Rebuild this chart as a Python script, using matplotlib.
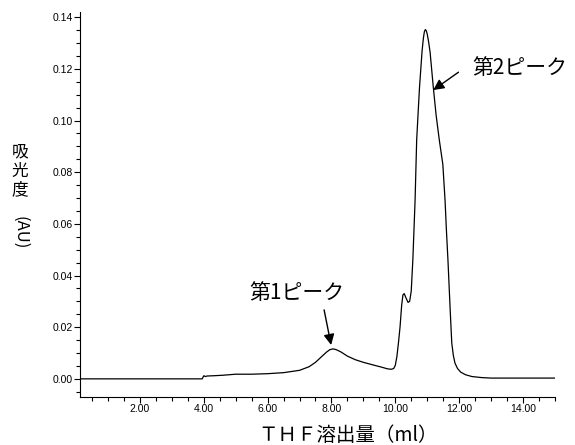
import numpy as np
import matplotlib.pyplot as plt
from matplotlib.ticker import MultipleLocator, FormatStrFormatter

plt.rcParams['font.family'] = ['Noto Sans CJK JP', 'DejaVu Sans']

# THF elution volume (ml) and absorbance (AU)
volume = [0.12, 1.0, 2.0, 3.0, 3.95, 4.0, 4.05, 4.1, 4.3, 4.6, 5.0, 5.5, 6.0,
          6.5, 7.0, 7.3, 7.5, 7.7, 7.85, 7.95, 8.05, 8.15, 8.3, 8.5, 8.75,
          9.0, 9.3, 9.55, 9.75, 9.87, 9.95, 10.0, 10.05, 10.1, 10.15, 10.2,
          10.24, 10.28, 10.33, 10.4, 10.45, 10.5, 10.55, 10.62, 10.67, 10.72,
          10.76, 10.84, 10.88, 10.91, 10.94, 10.97, 11.0, 11.04, 11.09, 11.19,
          11.28, 11.38, 11.49, 11.56, 11.6, 11.65, 11.72, 11.77, 11.82, 11.87,
          11.95, 12.05, 12.2, 12.4, 12.7, 13.0, 14.0, 15.0]
absorbance = [0.0, 0.0, 0.0, 0.0, 0.0, 0.0012, 0.0009, 0.0011, 0.0012, 0.0014,
              0.0018, 0.0018, 0.0020, 0.0024, 0.0033, 0.0047, 0.0064, 0.0087,
              0.0104, 0.0113, 0.0116, 0.0113, 0.0104, 0.0088, 0.0074, 0.0064,
              0.0054, 0.0046, 0.0039, 0.0037, 0.0040, 0.0052, 0.0086, 0.0140,
              0.0202, 0.0285, 0.0325, 0.0330, 0.0315, 0.0296, 0.0300, 0.0340,
              0.0460, 0.0690, 0.0924, 0.1040, 0.1130, 0.1270, 0.1318, 0.1343,
              0.1352, 0.1348, 0.1335, 0.1308, 0.1265, 0.1130, 0.1020, 0.0924,
              0.0830, 0.0690, 0.0580, 0.0460, 0.0267, 0.0138, 0.0090, 0.0061,
              0.0040, 0.0026, 0.0016, 0.0009, 0.0005, 0.0003, 0.0003, 0.0003]

fig = plt.figure(figsize=(5.75, 4.45), dpi=100)
ax = fig.add_axes([0.139, 0.108, 0.826, 0.865])

ax.plot(volume, absorbance, color='black', linewidth=0.9)

ax.set_xlim(0.12, 15.0)
ax.set_ylim(-0.007, 0.142)

ax.spines['top'].set_visible(False)
ax.spines['right'].set_visible(False)

ax.xaxis.set_major_locator(MultipleLocator(2))
ax.xaxis.set_minor_locator(MultipleLocator(0.5))
ax.yaxis.set_major_locator(MultipleLocator(0.02))
ax.yaxis.set_minor_locator(MultipleLocator(0.005))
ax.xaxis.set_major_formatter(FormatStrFormatter('%.2f'))
ax.yaxis.set_major_formatter(FormatStrFormatter('%.2f'))
ax.tick_params(which='major', direction='out', length=4, width=0.8, pad=1,
               labelsize=7.5)
ax.tick_params(which='minor', direction='out', length=3, width=0.8)
for lab in ax.get_xticklabels() + ax.get_yticklabels():
    lab.set_family('Liberation Sans')

# peak labels
arrow = dict(arrowstyle='-|>', color='black', lw=1, mutation_scale=16,
             shrinkA=0, shrinkB=0)
ax.text(6.91, 0.0333, '第1ピーク', fontsize=15, ha='center', va='center')
ax.annotate('', xy=(7.99, 0.0131), xytext=(7.77, 0.0267), arrowprops=arrow)
ax.text(12.41, 0.1203, '第2ピーク', fontsize=15, ha='left', va='center')
ax.annotate('', xy=(11.19, 0.1118), xytext=(11.98, 0.1187), arrowprops=arrow)

# axis titles
fig.text(348 / 575, 1 - 435 / 445, 'ＴＨＦ溶出量（ml）', fontsize=14,
         ha='center', va='center')
fig.text(20 / 575, 1 - 171 / 445, '吸\n光\n度', fontsize=12, ha='center',
         va='center', linespacing=1.15)
fig.text(20 / 575, 1 - 233 / 445, '(AU)', fontsize=12, ha='center',
         va='center', rotation=-90)

fig.savefig('out.png', dpi=100)
